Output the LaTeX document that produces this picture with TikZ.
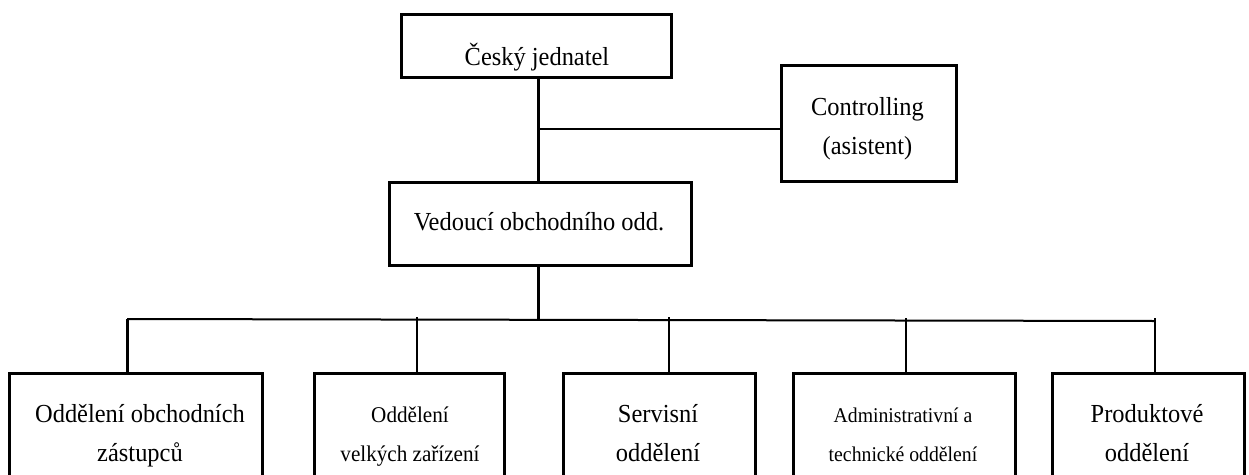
\documentclass[tikz,border=0pt]{standalone}
\usepackage{fontspec}
\setmainfont{Liberation Serif}
\newfontfamily\orgfont[FakeStretch=0.94]{Liberation Serif}
\begin{document}
\begin{tikzpicture}[x=1pt,y=-1pt,
  orgbox/.style={draw, line width=2.8pt, inner sep=0pt, anchor=north west},
  lbl/.style={anchor=base, inner sep=0pt, font=\orgfont\fontsize{26}{30}\selectfont},
  lblsmall/.style={anchor=base, inner sep=0pt, font=\orgfont\fontsize{22.5}{26}\selectfont},
  lbltiny/.style={anchor=base, inner sep=0pt, font=\orgfont\fontsize{21}{25}\selectfont},
  heavylink/.style={line width=3pt},
  lightlink/.style={line width=2pt}]
\useasboundingbox (0,0) rectangle (1249,474);
\clip (0,0) rectangle (1249,474);

% boxes
\node[orgbox, minimum width=270pt, minimum height=63pt] (ceo) at (400,13) {};
\node[orgbox, minimum width=175pt, minimum height=116pt] (ctrl) at (780,64) {};
\node[orgbox, minimum width=302pt, minimum height=83pt] (ved) at (388,181) {};
\node[orgbox, minimum width=253pt, minimum height=130pt] (b1) at (8,372) {};
\node[orgbox, minimum width=190pt, minimum height=130pt] (b2) at (313,372) {};
\node[orgbox, minimum width=192pt, minimum height=130pt] (b3) at (562,372) {};
\node[orgbox, minimum width=222pt, minimum height=130pt] (b4) at (792,372) {};
\node[orgbox, minimum width=192pt, minimum height=130pt] (b5) at (1051,372) {};

% labels
\node[lbl] (tceo) at (537,65) {Český jednatel};
\node[lbl] (tctrl1) at (867.5,115) {Controlling};
\node[lbl] (tctrl2) at (867.5,154) {(asistent)};
\node[lbl] (tved) at (539,230) {Vedoucí obchodního odd.};
\node[lbl] (tb1a) at (140,422) {Oddělení obchodních};
\node[lbl] (tb1b) at (140,461) {zástupců};
\node[lblsmall] (tb2a) at (410,422) {Oddělení};
\node[lblsmall] (tb2b) at (410,461) {velkých zařízení};
\node[lbl] (tb3a) at (658,422) {Servisní};
\node[lbl] (tb3b) at (658,461) {oddělení};
\node[lbltiny] (tb4a) at (903,422) {Administrativní a};
\node[lbltiny] (tb4b) at (903,461) {technické oddělení};
\node[lbl] (tb5a) at (1147,422) {Produktové};
\node[lbl] (tb5b) at (1147,461) {oddělení};

% junction points
\coordinate (j1) at (538,129);
\coordinate (bus) at (538,320);
\coordinate (d1) at (127,319);
\coordinate (d2) at (417,317);
\coordinate (d3) at (669,317);
\coordinate (d4) at (906,318);
\coordinate (d5) at (1155,318);

% upper connectors
\draw[heavylink] (ceo.south -| j1) -- (ved.north -| j1);
\draw[lightlink] (j1) -- (ctrl.west |- j1);
\draw[heavylink] (ved.south -| bus) -- (bus);

% distribution bar and drops
\draw[lightlink] (d1) -- (1155,321);
\draw[heavylink] (d1) -- (b1.north -| d1);
\draw[lightlink] (d2) -- (b2.north -| d2);
\draw[lightlink] (d3) -- (b3.north -| d3);
\draw[lightlink] (d4) -- (b4.north -| d4);
\draw[lightlink] (d5) -- (b5.north -| d5);
\end{tikzpicture}
\end{document}
